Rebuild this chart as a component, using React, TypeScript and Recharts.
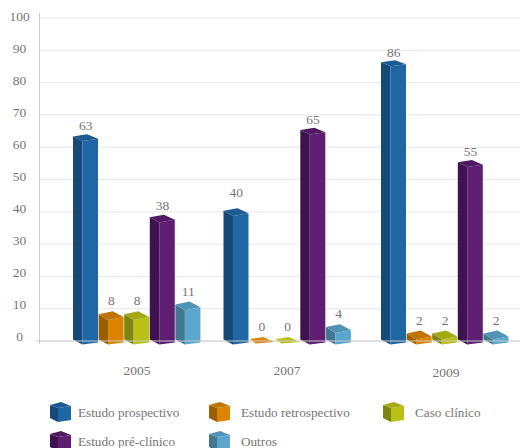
import React from 'react';
import { BarChart, Bar, XAxis, YAxis, CartesianGrid } from 'recharts';

const years = ['2005', '2007', '2009'];
const prospectivo = [63, 40, 86];
const retrospectivo = [8, 0, 2];
const casoClinico = [8, 0, 2];
const preClinico = [38, 65, 55];
const outros = [11, 4, 2];
const yTicks = [0, 10, 20, 30, 40, 50, 60, 70, 80, 90, 100];

const FONT = '"Liberation Serif", serif';
const TEXT = '#757575';

// the 2007 group sits a little left of its band, the 2009 caption a little lower
const groupShift: Record<string, number> = { '2005': 0, '2007': -3.5, '2009': 0 };
const captionShift: Record<string, [number, number]> = { '2005': [0, 0], '2007': [-0.5, 0], '2009': [1, 2] };

const rows = years.map((year, i) => ({
  year,
  prospectivo: prospectivo[i],
  retrospectivo: retrospectivo[i],
  casoClinico: casoClinico[i],
  preClinico: preClinico[i],
  outros: outros[i],
}));

const series = [
  { key: 'prospectivo', name: 'Estudo prospectivo', front: '#1f66a5', side: '#154a78', top: '#1c5a92', raise: [0, 6.5, 0] },
  { key: 'retrospectivo', name: 'Estudo retrospectivo', front: '#dc8400', side: '#9a5f00', top: '#c07400', raise: [0, 0, 0] },
  { key: 'casoClinico', name: 'Caso clínico', front: '#b9c116', side: '#7f8513', top: '#a3a913', raise: [0, 0, 0] },
  { key: 'preClinico', name: 'Estudo pré-clínico', front: '#5e1f73', side: '#40114f', top: '#4f1a62', raise: [0, 0, 0] },
  { key: 'outros', name: 'Outros', front: '#5aa6cc', side: '#42778f', top: '#5094b5', raise: [0, 0, 0] },
];

type Colors = { front: string; side: string; top: string };

// Box with a darker left face and a lid; the lid opens up as the column gets shorter
function Column(props: any) {
  const { x, y, width, height, payload, colors } = props;
  const left = x + groupShift[payload.year];
  const right = left + width - 0.6;
  const edge = left + width * 0.37;
  const peak = left + width * 0.55;
  const topY = y - 1;
  const baseY = y + height;
  const k = 1 + 0.5 * (1 - height / 280);
  const c: Colors = colors;
  if (height < 1) {
    // zero value: only the lid is left, lying on the axis
    return (
      <polygon
        fill={c.front}
        points={`${left + 1},${baseY - 2} ${peak},${baseY - 4} ${right},${baseY + 1} ${edge - 3},${baseY + 2.5}`}
      />
    );
  }
  return (
    <g>
      <polygon
        fill={c.side}
        points={`${left},${topY} ${edge},${topY + 4 * k} ${edge},${baseY + 3.5} ${left},${baseY - 1.5}`}
      />
      <polygon
        fill={c.front}
        points={`${edge},${topY + 4 * k} ${right},${topY + 2 * k} ${right},${baseY + 1.5} ${edge},${baseY + 3.5}`}
      />
      <polygon
        fill={c.top}
        points={`${left},${topY} ${peak},${topY - 2 * k} ${right},${topY + 2 * k} ${edge},${topY + 4 * k}`}
      />
    </g>
  );
}

function ValueLabel(props: any) {
  const { x, y, width, value, index, raise } = props;
  return (
    <text
      x={x + width / 2 + groupShift[years[index]]}
      y={y + 4 - (14 - value * 0.04) - raise[index]}
      textAnchor="middle"
      fontFamily={FONT}
      fontSize={13.5}
      fill={TEXT}
    >
      {value}
    </text>
  );
}

function ValueTick(props: any) {
  const { y, payload } = props;
  const v = payload.value;
  return (
    <g>
      <text
        x={19.5}
        y={y + 4 - (1 + 3 * (1 - v / 100))}
        textAnchor="middle"
        fontFamily={FONT}
        fontSize={13.5}
        fill={TEXT}
      >
        {v}
      </text>
      {v === 100 && <line x1={39.5} x2={39.5} y1={y - 5} y2={y} stroke="#cccccc" />}
      {v === 0 && <line x1={39.5} x2={39.5} y1={y} y2={y + 3} stroke="#cccccc" />}
      {v === 0 && <line x1={36} x2={39.5} y1={y} y2={y} stroke="#cccccc" />}
    </g>
  );
}

function YearTick(props: any) {
  const { x, y, payload } = props;
  const [dx, dy] = captionShift[payload.value];
  return (
    <text
      x={x + groupShift[payload.value] + dx}
      y={y + dy}
      textAnchor="middle"
      fontFamily={FONT}
      fontSize={13.5}
      fill={TEXT}
    >
      {payload.value}
    </text>
  );
}

function LegendCube({ colors }: { colors: Colors }) {
  return (
    <svg width={21} height={20} style={{ display: 'block' }}>
      <polygon fill={colors.side} points="0,3 8,6 8,20 0,16" />
      <polygon fill={colors.front} points="8,6 21,4 21,18 8,20" />
      <polygon fill={colors.top} points="0,3 11,0 21,4 8,6" />
    </svg>
  );
}

const legendSpots = [
  { left: 50, top: 402, textLeft: 78 },
  { left: 209, top: 402, textLeft: 241 },
  { left: 383, top: 402, textLeft: 415 },
  { left: 50, top: 431, textLeft: 78 },
  { left: 209, top: 431, textLeft: 241 },
];

export default function App() {
  return (
    <div style={{ position: 'absolute', left: 0, top: 0, width: 520, height: 448, overflow: 'hidden', background: '#fff' }}>
      <BarChart
        width={522}
        height={448}
        data={rows}
        barSize={25.6}
        barGap={0}
        margin={{ top: 18, right: 0, bottom: 0, left: 0 }}
      >
        <CartesianGrid horizontal vertical={false} stroke="#e8e8e8" />
        <XAxis
          dataKey="year"
          height={107}
          padding={{ left: 20.5, right: 0 }}
          axisLine={{ stroke: '#cccccc' }}
          tickLine={false}
          tick={<YearTick />}
          tickMargin={28}
        />
        <YAxis
          width={39.5}
          domain={[0, 100]}
          ticks={yTicks}
          axisLine={{ stroke: '#cccccc' }}
          tickLine={false}
          tick={<ValueTick />}
          interval={0}
        />
        {series.map((s) => (
          <Bar
            key={s.key}
            dataKey={s.key}
            name={s.name}
            isAnimationActive={false}
            shape={<Column colors={s} />}
            label={<ValueLabel raise={s.raise} />}
          />
        ))}
      </BarChart>
      {series.map((s, i) => (
        <React.Fragment key={s.key}>
          <div style={{ position: 'absolute', left: legendSpots[i].left, top: legendSpots[i].top }}>
            <LegendCube colors={s} />
          </div>
          <div
            style={{
              position: 'absolute',
              left: legendSpots[i].textLeft,
              top: legendSpots[i].top + 3,
              fontFamily: FONT,
              fontSize: 13.2,
              lineHeight: '16px',
              color: TEXT,
              whiteSpace: 'nowrap',
            }}
          >
            {s.name}
          </div>
        </React.Fragment>
      ))}
    </div>
  );
}
